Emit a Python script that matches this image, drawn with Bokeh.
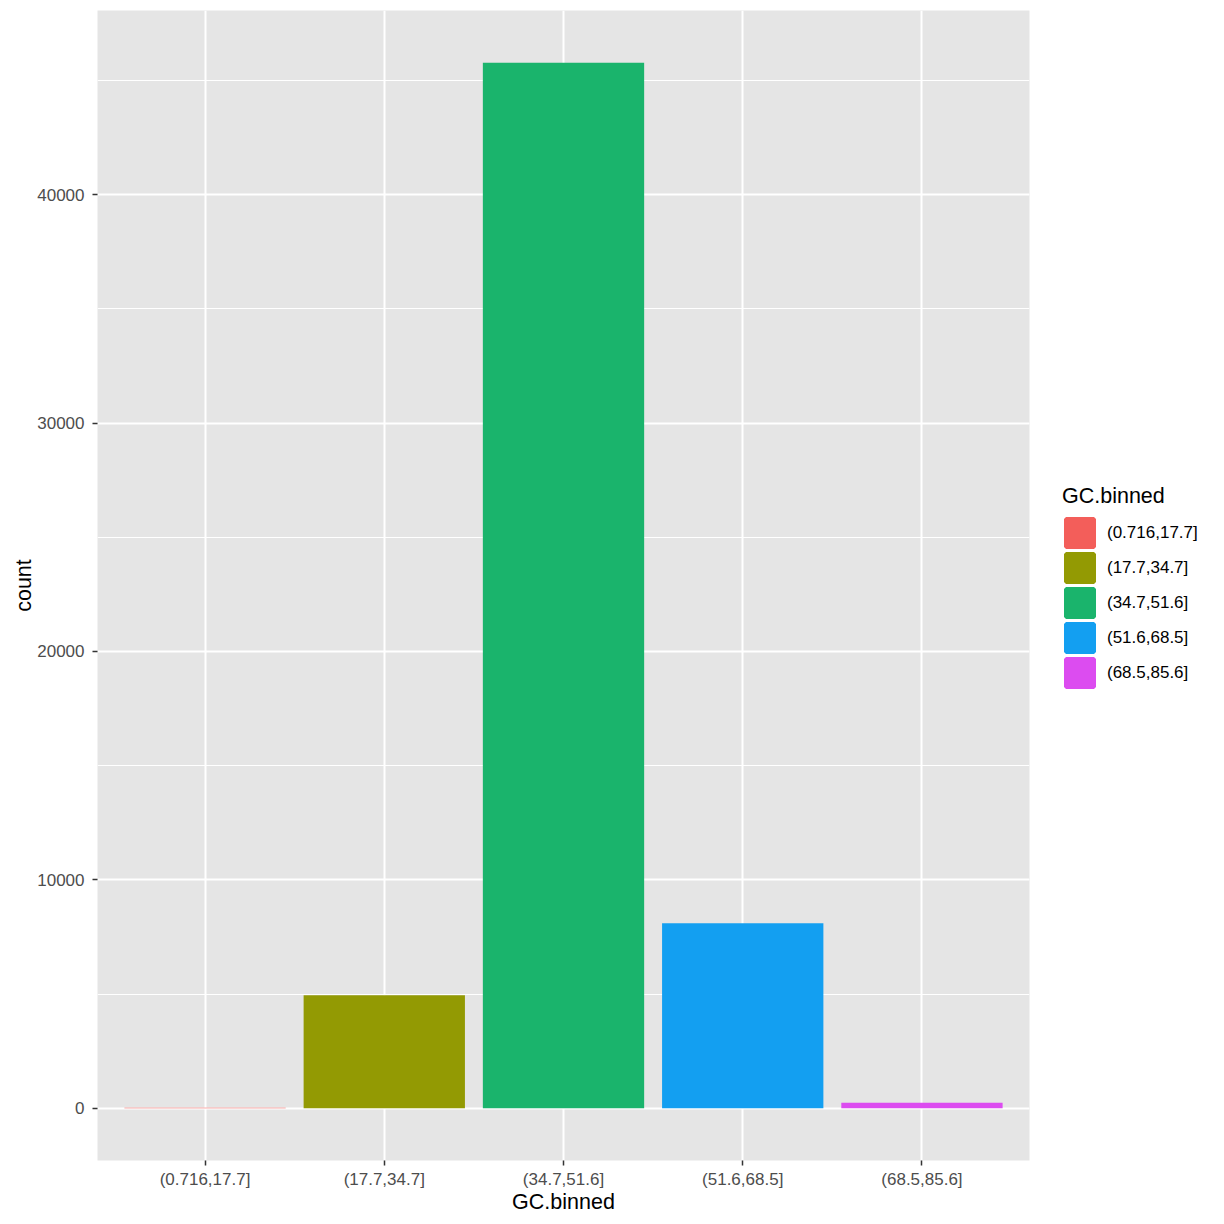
from bokeh.plotting import figure
from bokeh.layouts import row
from bokeh.models import (ColumnDataSource, FixedTicker, SingleIntervalTicker, Range1d,
                          Legend, LegendItem, BasicTickFormatter)
from bokeh.embed import file_html
from bokeh.resources import INLINE

categories = ["(0.716,17.7]", "(17.7,34.7]", "(34.7,51.6]", "(51.6,68.5]", "(68.5,85.6]"]
counts = [20, 4950, 45780, 8100, 240]
colors = ["#F35E5A", "#939A03", "#1AB46C", "#139FF1", "#DC4CF0"]
positions = list(range(1, len(categories) + 1))

ymax = max(counts)
pad = 0.05 * ymax

FONT = "Liberation Sans"

main = figure(width=1034, height=1224, output_backend="svg", toolbar_location=None,
              x_range=Range1d(0.4, len(categories) + 0.6),
              y_range=Range1d(-pad, ymax + pad),
              min_border_left=97, min_border_right=5, min_border_top=10, min_border_bottom=64)

main.background_fill_color = "#E5E5E5"
main.border_fill_color = "white"
main.outline_line_color = None

src = ColumnDataSource(dict(x=positions, top=counts, color=colors, cat=categories))
main.vbar(x="x", top="top", bottom=0, width=0.9, fill_color="color", line_color=None, source=src)

# axes
main.xaxis.ticker = FixedTicker(ticks=positions)
main.xaxis.major_label_overrides = {pos: c for pos, c in zip(positions, categories)}
main.yaxis.ticker = SingleIntervalTicker(interval=10000, num_minor_ticks=2)
main.yaxis.formatter = BasicTickFormatter(use_scientific=False)

for ax in (main.xaxis, main.yaxis):
    ax.axis_line_color = None
    ax.major_tick_line_color = "#333333"
    ax.major_tick_line_width = 1.5
    ax.major_tick_out = 5
    ax.major_tick_in = 0
    ax.minor_tick_line_color = None
    ax.major_label_text_font = FONT
    ax.major_label_text_font_size = "17px"
    ax.major_label_text_color = "#4D4D4D"
    ax.axis_label_text_font = FONT
    ax.axis_label_text_font_size = "21.5px"
    ax.axis_label_text_font_style = "normal"
    ax.axis_label_text_color = "black"

main.xaxis.axis_label = "GC.binned"
main.yaxis.axis_label = "count"
main.xaxis.major_label_standoff = 4
main.yaxis.major_label_standoff = 8
main.xaxis.axis_label_standoff = -2
main.yaxis.axis_label_standoff = -2

# grid
main.xgrid.ticker = FixedTicker(ticks=positions)
main.xgrid.grid_line_color = "white"
main.xgrid.grid_line_width = 2
main.ygrid.grid_line_color = "white"
main.ygrid.grid_line_width = 2
main.ygrid.minor_grid_line_color = "white"
main.ygrid.minor_grid_line_width = 1

# legend panel (separate figure to the right of the plotting panel);
# its key renderer is hidden, only its legend entries are shown
leg = figure(width=190, height=1224, output_backend="svg", toolbar_location=None,
             x_axis_type=None, y_axis_type=None,
             x_range=Range1d(100, 101), y_range=Range1d(-2e6, -1e6),
             min_border_left=0, min_border_right=0, min_border_top=0, min_border_bottom=0)
leg.outline_line_color = None
leg.background_fill_color = "white"
leg.border_fill_color = "white"
leg.xgrid.visible = False
leg.ygrid.visible = False
lr = leg.vbar(x="x", top="top", bottom=0, width=0.9, fill_color="color",
              line_color="color", line_width=4, source=src)
lr.visible = False

items = [LegendItem(label=c, renderers=[lr], index=i) for i, c in enumerate(categories)]
legend = Legend(items=items, location=(28, 470), orientation="vertical",
                title="GC.binned", title_text_font=FONT, title_text_font_size="21.5px",
                title_text_font_style="normal", title_text_color="black", title_standoff=6,
                label_text_font=FONT, label_text_font_size="17px", label_text_color="black",
                glyph_width=35, glyph_height=35, label_height=35, spacing=0, label_standoff=10,
                padding=0, margin=0, border_line_color=None, background_fill_alpha=0,
                inactive_fill_alpha=0)
leg.add_layout(legend, "center")

p = row(main, leg, spacing=0)

open("out.html", "w").write(file_html(p, INLINE))
